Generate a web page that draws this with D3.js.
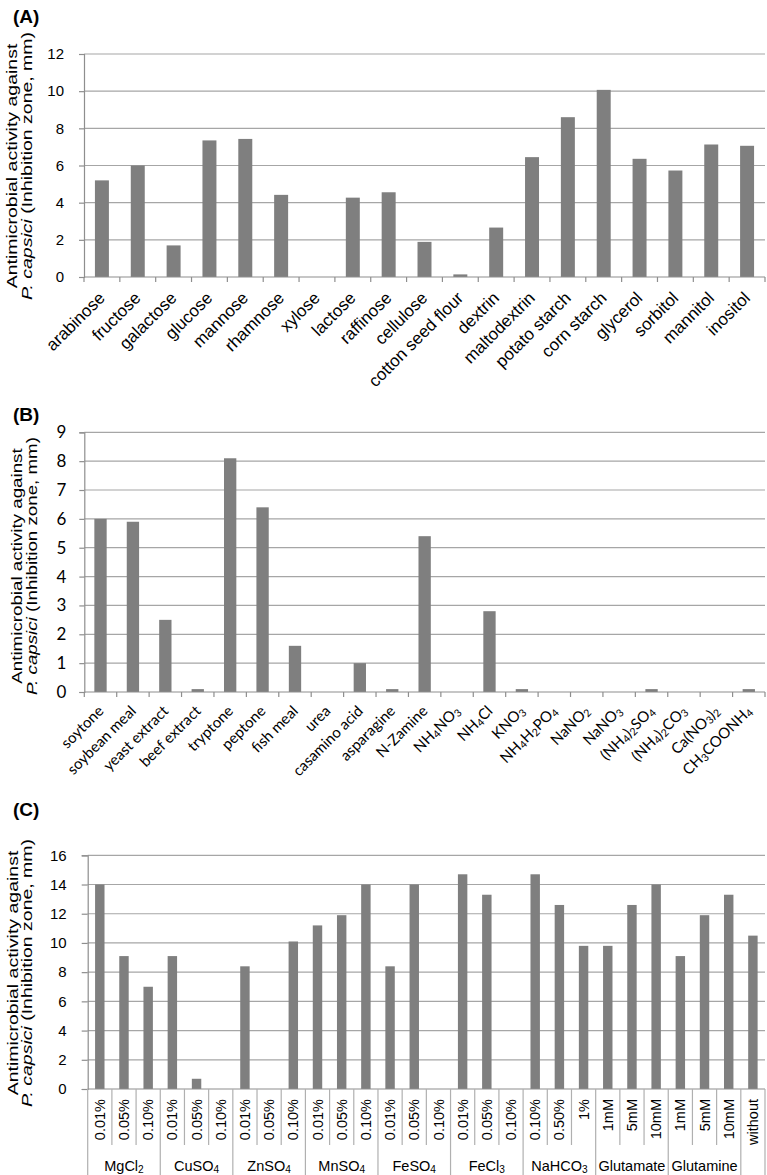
<!DOCTYPE html>
<html><head><meta charset="utf-8">
<script src="https://cdn.jsdelivr.net/npm/d3@7"></script>
<style>body{margin:0;background:#fff}svg{display:block}</style>
</head><body>
<svg id="c" width="767" height="1175"></svg>
<script>
// ---------- DATA ----------
const catsA = ["arabinose","fructose","galactose","glucose","mannose","rhamnose","xylose","lactose","raffinose","cellulose","cotton seed flour","dextrin","maltodextrin","potato starch","corn starch","glycerol","sorbitol","mannitol","inositol"];
const valsA = [5.2,6.0,1.7,7.35,7.43,4.42,0,4.27,4.56,1.89,0.14,2.66,6.45,8.6,10.07,6.36,5.73,7.13,7.06];
const ticksA = [0,2,4,6,8,10,12];

const catsB = ["soytone","soybean meal","yeast extract","beef extract","tryptone","peptone","fish meal","urea","casamino acid","asparagine","N-Zamine","NH_4NO_3","NH_4Cl","KNO_3","NH_4H_2PO_4","NaNO_2","NaNO_3","(NH_4)_2SO_4","(NH_4)_2CO_3","Ca(NO_3)_2","CH_3COONH_4"];
const valsB = [6.0,5.9,2.5,0.1,8.1,6.4,1.6,0,1.0,0.1,5.4,0,2.8,0.1,0,0,0,0.1,0,0,0.1];
const ticksB = [0,1,2,3,4,5,6,7,8,9];

const levelC = ["0.01%","0.05%","0.10%","0.01%","0.05%","0.10%","0.01%","0.05%","0.10%","0.01%","0.05%","0.10%","0.01%","0.05%","0.10%","0.01%","0.05%","0.10%","0.10%","0.50%","1%","1mM","5mM","10mM","1mM","5mM","10mM","without"];
const groupsC = ["MgCl_2","CuSO_4","ZnSO_4","MnSO_4","FeSO_4","FeCl_3","NaHCO_3","Glutamate","Glutamine",""];
const groupSizeC = [3,3,3,3,3,3,3,3,3,1];
const valsC = [14.0,9.1,7.0,9.1,0.7,0,8.4,0,10.1,11.2,11.9,14.0,8.4,14.0,0,14.7,13.3,0,14.7,12.6,9.8,9.8,12.6,14.0,9.1,11.9,13.3,10.5];
const ticksC = [0,2,4,6,8,10,12,14,16];

// ---------- STYLE ----------
const BAR = "#7f7f7f", GRID = "#a6a6a6", AXIS = "#8e8e8e";
const ARIAL = "'Liberation Sans', Arial, sans-serif";
const CALIBRI = "Lato, 'Open Sans', sans-serif";

const svg = d3.select("#c");

function richText(sel, s) {
  // "_d" => subscript digit
  const parts = s.split(/(_\d)/).filter(p => p.length);
  parts.forEach(p => {
    if (p[0] === "_") sel.append("tspan").attr("baseline-shift", "-22%").attr("font-size", "70%").text(p.slice(1));
    else sel.append("tspan").text(p);
  });
}

function yTitle(g, x1, x2, yc, sx, fs) {
  const t = g.append("g").attr("transform", `translate(0,${yc}) rotate(-90) scale(${sx},1)`)
    .attr("font-family", ARIAL).attr("font-size", fs).attr("text-anchor", "middle").attr("fill", "#000");
  t.append("text").attr("x", 0).attr("y", x1).text("Antimicrobial activity against");
  const l2 = t.append("text").attr("x", 0).attr("y", x2);
  l2.append("tspan").attr("font-style", "italic").text("P. capsici");
  l2.append("tspan").text(" (Inhibition zone, mm)");
}

function panel(o) {
  const g = svg.append("g");
  const x = d3.scaleBand().domain(o.cats.map((c, i) => i)).range([o.x0, o.x1]).padding(0);
  const y = d3.scaleLinear().domain([0, o.max]).range([o.y0, o.yTop]);
  const bw = x.bandwidth() * o.barFrac;
  // grid
  g.append("g").selectAll("line").data(o.ticks.filter(t => t > 0)).join("line")
    .attr("x1", o.x0).attr("x2", o.x1).attr("y1", d => y(d)).attr("y2", d => y(d))
    .attr("stroke", GRID).attr("stroke-width", 1.2);
  // bars
  g.append("g").selectAll("rect").data(o.vals).join("rect")
    .attr("x", (d, i) => x(i) + (x.bandwidth() - bw) / 2)
    .attr("width", bw)
    .attr("y", d => y(d)).attr("height", d => o.y0 - y(d))
    .attr("fill", BAR);
  // y axis
  const ya = g.append("g").attr("transform", `translate(${o.x0},0)`)
    .call(d3.axisLeft(y).tickValues(o.ticks).tickSize(o.tickLen).tickPadding(o.tickPad).tickFormat(d3.format("d")));
  ya.select(".domain").attr("stroke", AXIS).attr("stroke-width", 1.2);
  ya.selectAll(".tick line").attr("stroke", AXIS).attr("stroke-width", 1.2);
  ya.selectAll(".tick text").attr("font-family", o.tickFont).attr("font-size", o.tickFs).attr("fill", "#000");
  // x axis line
  g.append("line").attr("x1", o.x0).attr("x2", o.x1).attr("y1", o.y0).attr("y2", o.y0)
    .attr("stroke", AXIS).attr("stroke-width", 1.2);
  // panel letter
  g.append("text").attr("x", 13).attr("y", o.letterY).attr("font-family", ARIAL)
    .attr("font-weight", "bold").attr("font-size", 19).text(o.letter);
  return { g, x, y };
}

function rotatedLabels(p, o) {
  const { g, x } = p;
  const bnd = d3.range(o.cats.length + 1).map(i => i < o.cats.length ? x(i) : o.x1);
  g.append("g").selectAll("line").data(bnd).join("line")
    .attr("x1", d => d).attr("x2", d => d).attr("y1", o.y0).attr("y2", o.y0 + 5)
    .attr("stroke", AXIS).attr("stroke-width", 1.2);
  g.append("g").selectAll("text").data(o.cats).join("text")
    .attr("transform", (d, i) => `translate(${x(i) + x.bandwidth() / 2 + o.ldx},${o.y0 + o.ldy}) rotate(-45)`)
    .attr("text-anchor", "end").attr("font-family", o.labFont).attr("font-size", o.labFs).attr("fill", "#000")
    .each(function (d) { richText(d3.select(this), d); });
}

// ---------- PANEL A ----------
const oA = { cats: catsA, vals: valsA, ticks: ticksA, max: 12, x0: 84, x1: 765, y0: 277, yTop: 54,
  barFrac: 0.39, tickLen: 5, tickPad: 15, tickFont: ARIAL, tickFs: 15, letter: "(A)", letterY: 23,
  ldx: 4, ldy: 22, labFont: ARIAL, labFs: 17 };
const pA = panel(oA); rotatedLabels(pA, oA);
yTitle(pA.g, 17, 32, 166, 1.3, 15);

// ---------- PANEL B ----------
const oB = { cats: catsB, vals: valsB, ticks: ticksB, max: 9, x0: 84.3, x1: 765, y0: 692, yTop: 432.3,
  barFrac: 0.38, tickLen: 5, tickPad: 13, tickFont: CALIBRI, tickFs: 17, letter: "(B)", letterY: 421,
  ldx: 4, ldy: 20, labFont: CALIBRI, labFs: 15 };
const pB = panel(oB); rotatedLabels(pB, oB);
yTitle(pB.g, 22, 37, 566, 1.25, 15);

// ---------- PANEL C ----------
const oC = { cats: levelC, vals: valsC, ticks: ticksC, max: 16, x0: 87.7, x1: 765, y0: 1089, yTop: 855.3,
  barFrac: 0.39, tickLen: 6, tickPad: 15, tickFont: ARIAL, tickFs: 15, letter: "(C)", letterY: 816 };
const pC = panel(oC);
yTitle(pC.g, 18, 32, 973, 1.3, 15);
{
  const { g, x } = pC;
  // group boundaries
  const starts = []; let acc = 0;
  groupSizeC.forEach(s => { starts.push(acc); acc += s; });
  const groupB = new Set(starts.concat([acc]));
  const bnd = d3.range(levelC.length + 1);
  g.append("g").selectAll("line").data(bnd).join("line")
    .attr("x1", i => i < levelC.length ? x(i) : oC.x1).attr("x2", i => i < levelC.length ? x(i) : oC.x1)
    .attr("y1", oC.y0).attr("y2", i => groupB.has(i) ? 1175 : oC.y0 + 56)
    .attr("stroke", "#b0b0b0").attr("stroke-width", 1.2);
  g.append("g").selectAll("text").data(levelC).join("text")
    .attr("transform", (d, i) => `translate(${x(i) + x.bandwidth() / 2},${oC.y0 + 10}) rotate(-90)`)
    .attr("text-anchor", "end").attr("dy", "0.35em")
    .attr("font-family", ARIAL).attr("font-size", 14.5).attr("fill", "#000").text(d => d);
  g.append("g").selectAll("text").data(groupsC).join("text")
    .attr("x", (d, i) => { const s = starts[i], e = s + groupSizeC[i]; return (x(s) + (e < levelC.length ? x(e) : oC.x1)) / 2; })
    .attr("y", 1171).attr("text-anchor", "middle")
    .attr("font-family", ARIAL).attr("font-size", 14.5).attr("fill", "#000")
    .each(function (d) { richText(d3.select(this), d); });
}
</script>
</body></html>
